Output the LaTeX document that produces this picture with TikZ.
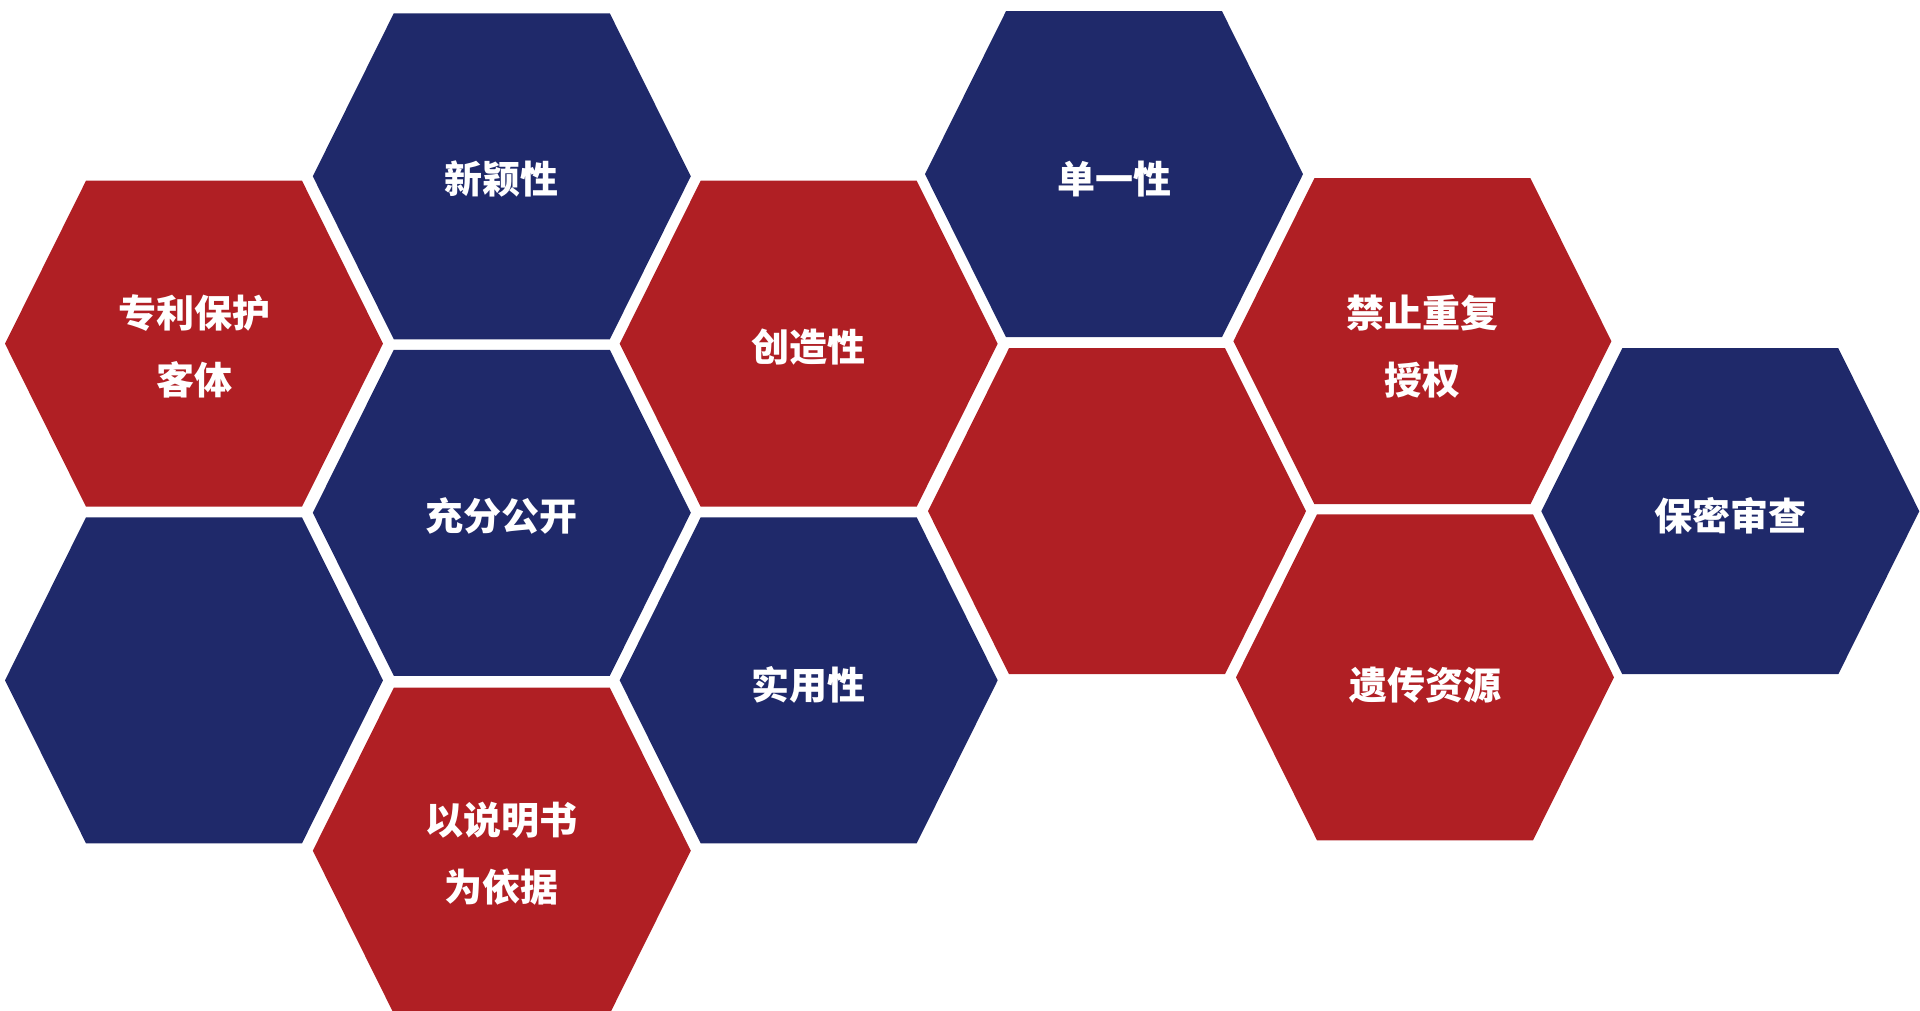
\documentclass[tikz,border=0pt]{standalone}
\usepackage{fontspec}
\newfontfamily\cjk{Noto Sans CJK SC}
\definecolor{hexred}{HTML}{B01F24}
\definecolor{hexblue}{HTML}{1F296A}
\newcommand\hexcell[6][3]{%
  \begin{scope}[shift={(#3,#4)}]
    \fill[#5] (-189,0) -- (-108,-163) -- (108,-163) -- (189,0) -- (108,163) -- (-108,163) -- cycle;
    \node[lbl] (#2) at (0,#1) {#6};
  \end{scope}}
\begin{document}
\begin{tikzpicture}[x=1pt,y=-1pt,
  redhex/.style={fill=hexred},
  bluehex/.style={fill=hexblue},
  lbl/.style={text=white, font=\cjk\bfseries\fontsize{38}{67}\selectfont, align=center, inner sep=0pt}]
\useasboundingbox (0,0) rectangle (1920,1010);
\begin{scope}
\clip (0,0) rectangle (1920,1010);
\hexcell{h1}{194}{343.7}{redhex}{专利保护\\客体}
\hexcell{h2}{501.8}{176.3}{bluehex}{新颖性}
\hexcell{h3}{808.7}{343.7}{redhex}{创造性}
\hexcell[5]{h4}{1114}{174.2}{bluehex}{单一性}
\hexcell[5]{h5}{1422.4}{341.2}{redhex}{禁止重复\\授权}
\hexcell[5]{h6}{1730.3}{511.2}{bluehex}{保密审查}
\hexcell{h7}{501.8}{512.8}{bluehex}{充分公开}
\hexcell{h8}{1117}{511.2}{redhex}{}
\hexcell{h9}{194}{680.3}{bluehex}{}
\hexcell[5]{h10}{808.7}{680.3}{bluehex}{实用性}
\hexcell[8]{h11}{1425}{677.3}{redhex}{遗传资源}
\hexcell{h12}{501.8}{850.7}{redhex}{以说明书\\为依据}
\end{scope}
\end{tikzpicture}
\end{document}
